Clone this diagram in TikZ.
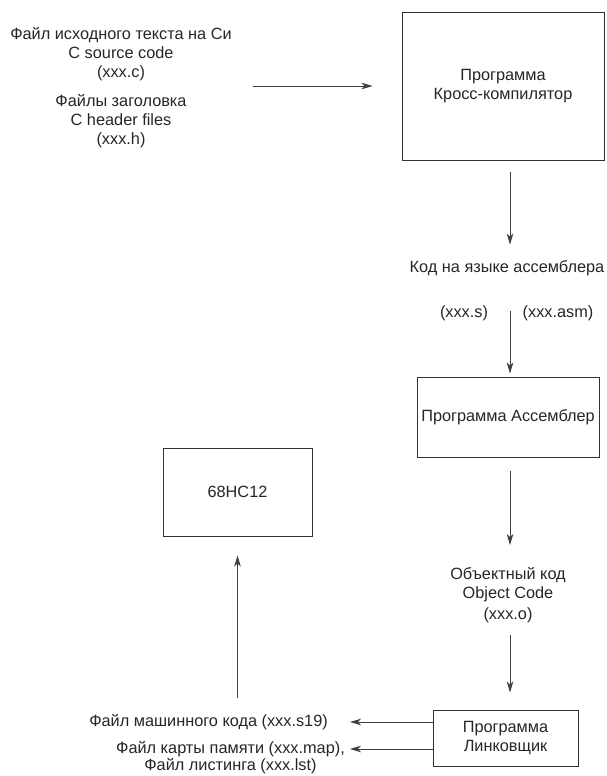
\documentclass[tikz,border=0pt]{standalone}
\usepackage{fontspec}
\setmainfont{Liberation Sans}
\usetikzlibrary{arrows.meta}
\begin{document}
\begin{tikzpicture}[x=1pt,y=-1pt,
  every node/.style={font=\fontsize{16.3}{19}\selectfont, text=black!85},
  box/.style={draw=black!80, line width=0.9pt, align=center, inner sep=0pt},
  lbl/.style={align=center, inner sep=0pt},
  arr/.style={draw=black!75, line width=0.9pt, -{Stealth[length=11pt,width=6.5pt,inset=3pt]}}]
\useasboundingbox (0,0) rectangle (607,776);
\coordinate (colx) at (510,0);

% source files
\node[lbl] (src) at (121,87.5) {Файл исходного текста на Си\\C source code\\(xxx.c)\\[10pt]Файлы заголовка\\C header files\\(xxx.h)};

% cross compiler
\node[box, minimum width=202, minimum height=148] (cc) at (503,86) {Программа\\Кросс-компилятор};
\draw[arr, shorten <=21pt, shorten >=29pt] (src.east |- cc.west) -- (cc.west);

% assembler code
\node[lbl] (asmcode) at (507,268) {Код на языке ассемблера};
\node[lbl] (exts) at (464,313) {(xxx.s)};
\node[lbl] (exta) at (558,313) {(xxx.asm)};
\draw[arr, shorten <=12pt, shorten >=15.5pt] (cc.south -| colx) -- (asmcode.north -| colx);

% assembler
\node[box, minimum width=182, minimum height=80] (asm) at (508,417) {Программа Ассемблер};
\draw[arr, shorten <=35pt, shorten >=3pt] (asmcode.south -| colx) -- (asm.north -| colx);

% object code
\node[lbl] (obj) at (508,595) {Объектный код\\Object Code\\[2pt](xxx.o)};
\draw[arr, shorten <=14pt, shorten >=22pt] (asm.south -| colx) -- (obj.north -| colx);

% linker
\node[box, minimum width=145, minimum height=56] (lnk) at (505.5,738) {Программа\\Линковщик};
\draw[arr, shorten <=12pt, shorten >=17pt] (obj.south -| colx) -- (lnk.north -| colx);

% linker outputs
\node[lbl, anchor=east] (s19) at (328,722) {Файл машинного кода (xxx.s19)};
\node[lbl, anchor=east] (map) at (345,749) {Файл карты памяти (xxx.map),};
\node[lbl] (lst) at ([yshift=-17pt]map.center) {Файл листинга (xxx.lst)};
\draw[arr, shorten >=22pt] (lnk.west |- s19.east) -- (s19.east);
\draw[arr, shorten >=5pt] (lnk.west |- map.east) -- (map.east);

% target
\node[box, minimum width=149, minimum height=88] (mcu) at (237.5,492) {68HC12};
\draw[arr, shorten <=16.5pt, shorten >=19pt] (s19.north -| mcu) -- (mcu.south);
\end{tikzpicture}
\end{document}
